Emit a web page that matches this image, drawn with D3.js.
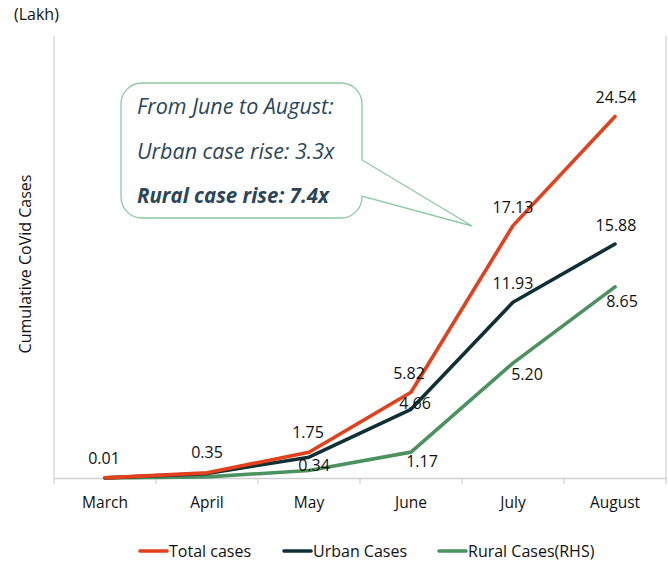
<!DOCTYPE html>
<html><head><meta charset="utf-8">
<script src="https://cdn.jsdelivr.net/npm/d3@7"></script>
<style>body{margin:0;background:#fff}svg{display:block;font-family:"Open Sans",Lato,sans-serif}</style>
</head><body><svg id="c" width="668" height="585"></svg>
<script>
const months = ["March","April","May","June","July","August"];
const totalCases = [0.01,0.35,1.75,5.82,17.13,24.54];
const urbanCases = [0.01,0.30,1.41,4.66,11.93,15.88];
const ruralCases = [0.00,0.05,0.34,1.17,5.20,8.65];
const totalLabels = ["0.01","0.35","1.75","5.82","17.13","24.54"];
const urbanLabels = [null,null,null,"4.66","11.93","15.88"];
const ruralLabels = [null,null,"0.34","1.17","5.20","8.65"];
const seriesNames = ["Total cases","Urban Cases","Rural Cases(RHS)"];
const calloutLines = ["From June to August:","Urban case rise: 3.3x","Rural case rise: 7.4x"];

// label placement offsets (px)
const totalDx=[-1,0,-1,-2,0,1], totalDy=[-14,-15,-14,-13,-13,-13];
const urbanDx=[0,0,0,4,0,1], urbanDy=[0,0,0,0,-13,-13];
const ruralDx=[0,0,5,11,14,7], ruralDy=[0,0,1,15,17,20];

const colors = ["#e2411c","#0f3136","#4a9360"];
const svg = d3.select("#c");
const L=54, R=666, T=36, B=478;
const x = d3.scaleBand().domain(months).range([L,R]);
const yL = d3.scaleLinear().domain([0,30]).range([B,T]);
const yR = d3.scaleLinear().domain([0,20]).range([B,T]);

// axes
svg.append("line").attr("x1",L).attr("x2",L).attr("y1",T).attr("y2",B).attr("stroke","#d0d0d0").attr("stroke-width",1.2);
svg.append("line").attr("x1",R).attr("x2",R).attr("y1",T).attr("y2",B).attr("stroke","#d0d0d0").attr("stroke-width",1.2);
const xa = svg.append("g").attr("transform",`translate(0,${B})`)
  .call(d3.axisBottom(x).tickSize(0).tickPadding(19));
xa.select(".domain").attr("stroke","#d0d0d0").attr("stroke-width",1.5);
xa.selectAll("text").attr("font-size",15.5).attr("fill","#111").attr("font-family","Open Sans");
svg.append("g").selectAll("line").data(d3.range(months.length+1)).join("line")
  .attr("x1",i=>L+i*x.step()).attr("x2",i=>L+i*x.step())
  .attr("y1",B).attr("y2",B+6).attr("stroke","#d0d0d0").attr("stroke-width",1.2);

const cx = m => x(m)+x.bandwidth()/2;
const series = [
  {vals:totalCases, y:yL, c:colors[0], labels:totalLabels, dx:totalDx, dy:totalDy},
  {vals:urbanCases, y:yL, c:colors[1], labels:urbanLabels, dx:urbanDx, dy:urbanDy},
  {vals:ruralCases, y:yR, c:colors[2], labels:ruralLabels, dx:ruralDx, dy:ruralDy}
];
[2,1,0].forEach(k=>{
  const s=series[k];
  const line = d3.line().x((d,i)=>cx(months[i])).y(d=>s.y(d));
  svg.append("path").datum(s.vals).attr("d",line).attr("fill","none")
    .attr("stroke",s.c).attr("stroke-width",3.6).attr("stroke-linejoin","round").attr("stroke-linecap","round");
});
series.forEach(s=>{
  const pts = s.vals.map((v,i)=>({v,i,t:s.labels[i]})).filter(d=>d.t!==null);
  svg.append("g").selectAll("text").data(pts).join("text")
    .attr("x",d=>cx(months[d.i])+s.dx[d.i]).attr("y",d=>s.y(d.v)+s.dy[d.i])
    .attr("text-anchor","middle").attr("font-size",16).attr("fill","#111")
    .text(d=>d.t);
});

// titles
svg.append("text").attr("x",14).attr("y",20).attr("font-size",16).attr("fill","#111").text("(Lakh)");
svg.append("text").attr("transform","translate(31,264) rotate(-90)").attr("text-anchor","middle")
  .attr("font-size",16).attr("fill","#111").text("Cumulative CoVid Cases");

// callout
const bx0=121,bx1=362,by0=83,by1=218,r=21;
const p=d3.path();
p.moveTo(bx0+r,by0); p.lineTo(bx1-r,by0); p.arcTo(bx1,by0,bx1,by0+r,r);
p.lineTo(bx1,160); p.lineTo(472,226); p.lineTo(bx1,196);
p.lineTo(bx1,by1-r); p.arcTo(bx1,by1,bx1-r,by1,r);
p.lineTo(bx0+r,by1); p.arcTo(bx0,by1,bx0,by1-r,r);
p.lineTo(bx0,by0+r); p.arcTo(bx0,by0,bx0+r,by0,r); p.closePath();
svg.append("path").attr("d",p.toString()).attr("fill","#fff").attr("stroke","#8ccaa0").attr("stroke-width",1.3);
svg.append("g").selectAll("text").data(calloutLines).join("text")
  .attr("x",137).attr("y",(d,i)=>114+i*44.5).attr("font-size",(d,i)=>i===2?20.5:21.5).attr("font-style","italic")
  .attr("font-weight",(d,i)=>i===2?"bold":"normal").attr("fill","#2c4657").text(d=>d);

// legend
const legX=[140,284,439];
const lg = svg.append("g").selectAll("g").data(seriesNames).join("g")
  .attr("transform",(d,i)=>`translate(${legX[i]},551)`);
lg.append("line").attr("x1",0).attr("x2",27).attr("y1",0).attr("y2",0)
  .attr("stroke",(d,i)=>colors[i]).attr("stroke-width",3.6).attr("stroke-linecap","round");
lg.append("text").attr("x",29).attr("y",6).attr("font-size",16).attr("fill","#111").text(d=>d);
</script></body></html>
